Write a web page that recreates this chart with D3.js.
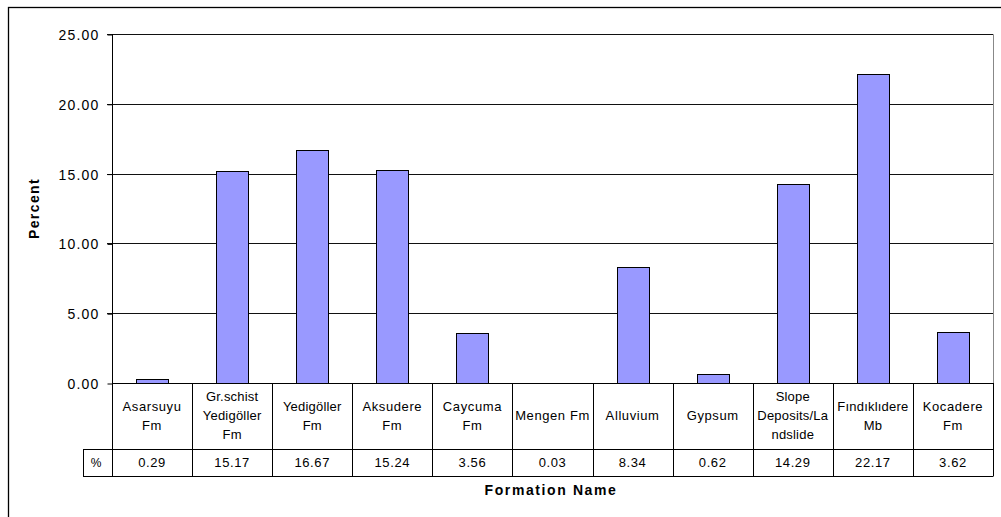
<!DOCTYPE html>
<html>
<head>
<meta charset="utf-8">
<script src="https://cdn.jsdelivr.net/npm/d3@7"></script>
<style>
  body { margin: 0; background: #fff; }
  svg { font-family: "Liberation Sans", Arial, sans-serif; }
</style>
</head>
<body>
<svg width="1001" height="517"></svg>
<script>
// data
var formations = [
  ["Asarsuyu", "Fm"],
  ["Gr.schist", "Yedigöller", "Fm"],
  ["Yedigöller", "Fm"],
  ["Aksudere", "Fm"],
  ["Caycuma", "Fm"],
  ["Mengen Fm"],
  ["Alluvium"],
  ["Gypsum"],
  ["Slope", "Deposits/La", "ndslide"],
  ["Fındıklıdere", "Mb"],
  ["Kocadere", "Fm"]
]
var percents = [0.29, 15.17, 16.67, 15.24, 3.56, 0.03, 8.34, 0.62, 14.29, 22.17, 3.62]
var yTicks = [0, 5, 10, 15, 20, 25]

var svg = d3.select("svg")

// plot area (window.top is reserved, so use own names)
var pLeft = 112, pRight = 993, pTop = 34, pBottom = 383
var labelRow = 66, valueRow = 27

// outer chart border (runs off the right and bottom)
svg.append("rect")
  .attr("x", 8.5).attr("y", 7.5)
  .attr("width", 1100).attr("height", 600)
  .attr("fill", "none").attr("stroke", "#000").attr("stroke-width", 1.3)

var x = d3.scaleBand()
  .domain(d3.range(percents.length))
  .range([pLeft, pRight])
  .paddingInner(0.6).paddingOuter(0.3)

var cols = d3.scaleBand()
  .domain(d3.range(percents.length))
  .range([pLeft, pRight])

var y = d3.scaleLinear().domain([0, 25]).range([pBottom, pTop])

// plot frame (right side gray)
svg.append("path")
  .attr("d", "M" + pLeft + "," + (pTop + 0.5) + "H" + (pRight + 0.5) + "V" + pBottom)
  .attr("fill", "none").attr("stroke", "#888")

// gridlines
svg.append("g")
  .selectAll("line")
  .data(yTicks.slice(1))
  .enter().append("line")
  .attr("x1", pLeft - 5).attr("x2", pRight)
  .attr("y1", d => Math.round(y(d)) + 0.5).attr("y2", d => Math.round(y(d)) + 0.5)
  .attr("stroke", "#111").attr("stroke-width", 1)

// y axis
var yAxis = d3.axisLeft(y).tickValues(yTicks).tickSize(5).tickFormat(d3.format(".2f"))
var ga = svg.append("g")
  .attr("transform", "translate(" + (pLeft + 0.5) + ",0.5)")
  .call(yAxis)
ga.select(".domain").remove()
ga.selectAll("line").attr("stroke", "#000")
ga.selectAll("text")
  .attr("font-size", 14).attr("fill", "#000")
  .attr("font-family", "Liberation Sans, Arial, sans-serif")
  .attr("letter-spacing", "1.2")
  .attr("x", -13).attr("dy", "0.35em")
svg.append("line")
  .attr("x1", pLeft + 0.5).attr("x2", pLeft + 0.5)
  .attr("y1", pTop).attr("y2", pBottom)
  .attr("stroke", "#000")

// bars
svg.append("g")
  .selectAll("rect")
  .data(percents)
  .enter().append("rect")
  .attr("x", (d, i) => Math.round(x(i)) + 0.5)
  .attr("width", Math.round(x.bandwidth()))
  .attr("y", d => Math.round(y(d)) + 0.5)
  .attr("height", d => Math.max(0, Math.round(pBottom - y(d))))
  .attr("fill", "#9999ff")
  .attr("stroke", d => d > 0.1 ? "#000" : "none")
  .attr("stroke-width", 1)

// data table
var tbl = svg.append("g").attr("stroke", "#000").attr("fill", "none")
var tableBottom = pBottom + labelRow + valueRow
tbl.append("line")
  .attr("x1", pLeft).attr("x2", pRight + 0.5)
  .attr("y1", pBottom + 0.5).attr("y2", pBottom + 0.5)
tbl.append("line")
  .attr("x1", 83).attr("x2", pRight + 0.5)
  .attr("y1", pBottom + labelRow + 0.5).attr("y2", pBottom + labelRow + 0.5)
tbl.append("line")
  .attr("x1", 83).attr("x2", pRight + 0.5)
  .attr("y1", tableBottom + 0.5).attr("y2", tableBottom + 0.5)
tbl.append("line")
  .attr("x1", 83.5).attr("x2", 83.5)
  .attr("y1", pBottom + labelRow).attr("y2", tableBottom)
tbl.selectAll(".sep")
  .data(d3.range(percents.length + 1))
  .enter().append("line")
  .attr("x1", i => Math.round(pLeft + i * cols.bandwidth()) + 0.5)
  .attr("x2", i => Math.round(pLeft + i * cols.bandwidth()) + 0.5)
  .attr("y1", pBottom).attr("y2", tableBottom)

// category labels
var lh = 19
svg.append("g")
  .selectAll("text")
  .data(formations)
  .enter().append("text")
  .attr("text-anchor", "middle")
  .attr("font-size", 13)
  .attr("fill", "#000")
  .attr("transform", (d, i) => "translate(" + (cols(i) + cols.bandwidth() / 2) + "," +
    (pBottom + labelRow / 2 - (d.length - 1) * lh / 2 + 4) + ")")
  .each(function (d) {
    d3.select(this).selectAll("tspan")
      .data(d).enter().append("tspan")
      .attr("x", 0)
      .attr("dy", (t, j) => j ? lh : 0)
      .attr("letter-spacing", d.join("").length > 10 ? "0.2" : "0.6")
      .text(t => t)
  })

// values row
svg.append("g")
  .selectAll("text")
  .data(percents)
  .enter().append("text")
  .attr("x", (d, i) => cols(i) + cols.bandwidth() / 2)
  .attr("y", pBottom + labelRow + valueRow / 2 + 4.5)
  .attr("text-anchor", "middle")
  .attr("font-size", 13)
  .attr("letter-spacing", "0.6")
  .text(d => d3.format(".2f")(d))

svg.append("text")
  .attr("x", 96).attr("y", pBottom + labelRow + valueRow / 2 + 4.5)
  .attr("text-anchor", "middle").attr("font-size", 12)
  .text("%")

// axis titles
svg.append("text")
  .attr("transform", "translate(39," + ((pTop + pBottom) / 2) + ") rotate(-90)")
  .attr("text-anchor", "middle")
  .attr("font-size", 14).attr("font-weight", "bold")
  .attr("letter-spacing", "1.4")
  .text("Percent")

svg.append("text")
  .attr("x", 551).attr("y", 495)
  .attr("text-anchor", "middle")
  .attr("font-size", 14).attr("font-weight", "bold")
  .attr("letter-spacing", "1.6")
  .text("Formation Name")
</script>
</body>
</html>
